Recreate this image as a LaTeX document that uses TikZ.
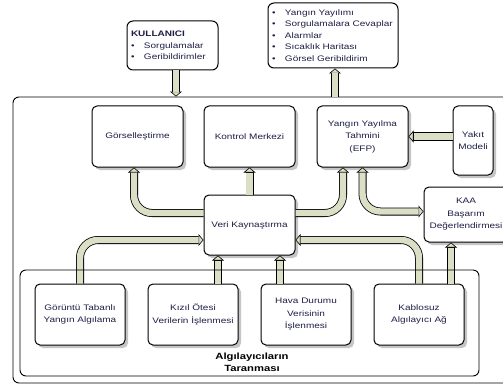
\documentclass[tikz,border=0pt]{standalone}
\usepackage{fontspec}
\setmainfont{Liberation Sans}[FakeStretch=1.25]
\usepackage{xcolor}
\usepackage{tikz}
\usetikzlibrary{arrows.meta, positioning, calc, shadows}

\definecolor{okrenk}{RGB}{219,223,198}
\definecolor{yazirenk}{RGB}{30,30,70}
\newcommand{\madde}[1]{\mbox{\makebox[13pt][l]{\textbullet}#1}}

\begin{document}
\begin{tikzpicture}[
    x=1pt, y=-1pt,
    font=\fontsize{8}{12.5}\selectfont,
    kutu/.style={draw, fill=white, rounded corners=5pt, line width=1pt,
                 minimum width=91pt, minimum height=61pt, align=center,
                 inner sep=2pt, text=yazirenk,
                 drop shadow={shadow xshift=3pt, shadow yshift=-3pt,
                              fill=black!45, opacity=.5}},
    liste/.style={draw, fill=white, rounded corners=6pt, line width=1pt,
                  align=left, inner xsep=4pt, text=yazirenk,
                  font=\fontsize{8}{11.5}\selectfont},
    cerceve/.style={draw, rounded corners=6pt, line width=0.9pt},
    ucu/.tip={Triangle[width=12pt, length=5pt, line width=0.6pt, fill=okrenk]},
    ok/.style={draw=black, line width=8pt, -ucu,
               postaction={draw=okrenk, line width=6.4pt, arrows=-,
                           shorten >=5pt}},
    ciftok/.style={draw=black, line width=8pt, ucu-ucu,
               postaction={draw=okrenk, line width=6.4pt, arrows=-,
                           shorten >=5pt, shorten <=5pt}}
  ]
  \useasboundingbox (0,0) rectangle (503,385);

  % --- Dis cerceve ---
  \node[cerceve, fill=white, minimum width=497pt, minimum height=286pt] (dis) at (261.5,240) {};

  % --- Kullanici ve ciktilar ---
  \node[liste, text width=83pt, minimum height=49pt] (kul) at (172.5,45.5)
    {\textbf{KULLANICI}\\ \madde{Sorgulamalar}\\ \madde{Geribildirimler}};
  \node[liste, text width=122pt, minimum height=65pt] (cikti) at (333,35.5)
    {\madde{Yangın Yayılımı}\\ \madde{Sorgulamalara Cevaplar}\\ \madde{Alarmlar}\\
     \madde{Sıcaklık Haritası}\\ \madde{Görsel Geribildirim}};

  % --- Ust kutular ---
  \node[kutu] (gor) at (137.5,136.5) {Görselleştirme};
  \node[kutu] (kon) at (249.5,136.5) {Kontrol Merkezi};
  \node[kutu] (efp) at (362.5,136.5) {Yangın Yayılma\\Tahmini\\(EFP)};
  \node[kutu, minimum width=40pt, minimum height=69pt] (yak) at (473,140.5) {Yakıt\\Modeli};
  \node[kutu, minimum width=84pt, minimum height=55pt] (kaa) at (466,214.5)
    {KAA\\Başarım\\Değerlendirmesi};
  \node[kutu, minimum height=60pt] (vk) at (249.5,225) {Veri Kaynaştırma};

  % --- Algilayicilar ---
  \node[kutu, minimum width=90pt] (gt) at (80,314.5) {Görüntü Tabanlı\\Yangın Algılama};
  \node[kutu, minimum width=90pt] (kiz) at (193,314.5) {Kızıl Ötesi\\Verilerin İşlenmesi};
  \node[kutu, minimum width=90pt] (hava) at (306,314.5) {Hava Durumu\\Verisinin\\İşlenmesi};
  \node[kutu, minimum width=90pt] (kab) at (419,314.5) {Kablosuz\\Algılayıcı Ağ};

  % --- Oklar ---
  \draw[ok] ($(kul.south)+(3.5,0)$) coordinate (k1) -- (k1 |- dis.north);
  \path ($(cikti.south)+(2,0)$) coordinate (c1);
  \draw[ok] (c1 |- dis.north) -- (c1);
  \draw[ok, rounded corners=18pt] ($(vk.west)+(0,-12)$) -| ($(gor.south)+(-3.5,0)$);
  \draw[ok] (vk.north) -- (kon.south);
  \draw[ok, rounded corners=18pt] ($(vk.east)+(0,-12)$) -| ($(efp.south)+(-19.5,0)$);
  \draw[ciftok, rounded corners=18pt] (efp.south) |- ($(kaa.west)+(0,-3)$);
  \draw[ok] (yak.west |- efp.east) -- (efp.east);
  \draw[ok, rounded corners=18pt] (gt.north) |- ($(vk.west)+(0,15)$);
  \draw[ok] ($(kiz.north)+(25,0)$) coordinate (k2) -- (k2 |- vk.south);
  \draw[ok] ($(hava.north)+(-26,0)$) coordinate (k3) -- (k3 |- vk.south);
  \draw[ok, rounded corners=18pt] (kab.north) |- ($(vk.east)+(0,15)$);
  \draw[ok] ($(kab.north)+(32,0)$) coordinate (k4) -- (k4 |- kaa.south);

  % --- Tarama grubu ---
  \node[cerceve, minimum width=459pt, minimum height=106pt] (tar) at (249.5,323) {};
  \node[font=\fontsize{9}{12.5}\selectfont\bfseries, align=center, above=1pt of tar.south,
        xshift=2.5pt] (tarb) {Algılayıcıların\\Taranması};

\end{tikzpicture}
\end{document}
